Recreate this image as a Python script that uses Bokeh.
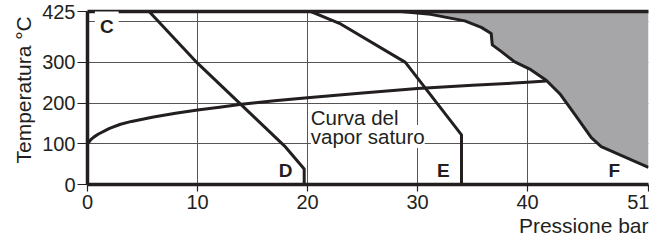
import math
from bokeh.plotting import figure
from bokeh.models import Range1d, FixedTicker, LinearAxis, Label, Title
from bokeh.embed import file_html
from bokeh.resources import INLINE

# ---- data ----
x_ticks = [0, 10, 20, 30, 40, 51]
x_tick_labels = ["0", "10", "20", "30", "40", "51"]
y_ticks = [0, 100, 200, 300, 425]
x_grid = [10, 20, 30, 40]
y_grid = [100, 200, 300, 400]

# saturated vapour curve (Curva del vapor saturo)
sat_p = [0, 0.3, 0.6, 1, 2, 3, 4, 6, 8, 10, 12, 14, 17, 20, 25, 30, 35, 40, 41.7]
sat_t = [100, 110, 117, 124, 138, 148, 155, 166, 175, 183, 190, 197, 206, 213, 225, 236, 244, 251, 254]

# curve D
d_p = [5.6, 10.0, 17.9, 19.7, 19.7]
d_t = [425, 298, 95, 38, 0]

# curve E
e_p = [20.3, 22.9, 28.9, 34.0, 34.0]
e_t = [425, 396, 300, 122, 0]

# curve F (boundary of grey region)
f_p = [28.5, 31.2, 34.3, 35.8, 36.7, 36.8, 37.6, 38.8, 40.3, 41.7, 43.0, 44.3, 45.8, 46.7, 51.0]
f_t = [425, 418, 402, 386, 371, 343, 327, 302, 282, 256, 221, 172, 115, 93, 42]

INK = "#231f20"
GREY = "#a6a6a8"
FONT = "Liberation Sans"

p = figure(width=649, height=245, output_backend="svg", toolbar_location=None,
           x_range=Range1d(0, 51), y_range=Range1d(0, 425),
           min_border_left=87, min_border_right=1, min_border_top=11, min_border_bottom=61)
p.outline_line_color = None
p.background_fill_color = "white"
p.border_fill_color = "white"

# grid
p.xgrid.ticker = FixedTicker(ticks=x_grid)
p.ygrid.ticker = FixedTicker(ticks=y_grid)
for g in (p.xgrid, p.ygrid):
    g.grid_line_color = "#555555"
    g.grid_line_width = 1

# grey region F
p.patch(f_p + [51], f_t + [425], fill_color=GREY, line_color=None)

# curves
lw = 3
p.line(f_p, f_t, line_width=lw, line_color=INK, line_join="round")
p.line(sat_p, sat_t, line_width=lw, line_color=INK, line_join="round")
p.line(d_p, d_t, line_width=lw, line_color=INK, line_join="round")
p.line(e_p, e_t, line_width=lw, line_color=INK, line_join="round")

# axes
for ax in (p.xaxis, p.yaxis):
    ax.axis_line_width = 3.5
    ax.axis_line_color = INK
    ax.major_tick_line_color = INK
    ax.major_tick_line_width = 1.2
    ax.major_tick_in = 0
    ax.minor_tick_line_color = None
    ax.major_label_text_font = FONT
    ax.major_label_text_font_size = "20px"
    ax.major_label_text_color = INK

# x axis: visible tick marks are the minor ticks at the true positions;
# labels sit on (invisible) major ticks, the last one nudged left to stay inside
label_pos = x_ticks[:-1] + [x_ticks[-1] - 0.85]
p.xaxis.ticker = FixedTicker(ticks=label_pos, minor_ticks=x_ticks)
p.xaxis.major_label_overrides = {pos: lab for pos, lab in zip(label_pos, x_tick_labels)}
p.xaxis.major_tick_line_color = None
p.xaxis.major_tick_out = 7
p.xaxis.minor_tick_line_color = INK
p.xaxis.minor_tick_line_width = 1.2
p.xaxis.minor_tick_out = 7
p.xaxis.minor_tick_in = 0
p.xaxis.major_label_standoff = 3

p.yaxis.ticker = FixedTicker(ticks=y_ticks)
p.yaxis.major_tick_out = 10
p.yaxis.major_label_standoff = 2

top = LinearAxis(ticker=FixedTicker(ticks=[]), axis_line_width=3.5, axis_line_color=INK,
                 major_tick_line_color=None, minor_tick_line_color=None,
                 major_label_standoff=0, major_tick_out=0, major_tick_in=0)
p.add_layout(top, "above")

# axis titles
p.add_layout(Title(text="Pressione bar", align="right", text_font=FONT, text_font_size="21px",
                   text_font_style="normal", text_color=INK, standoff=0), "below")
p.add_layout(Title(text="Temperatura °C", align="left", text_font=FONT, text_font_size="21px",
                   text_font_style="normal", text_color=INK, standoff=10, offset=21), "left")

# in-plot texts
txt_kw = dict(text_font=FONT, text_font_size="20.5px", text_color=INK,
              text_align="left", text_baseline="alphabetic")
p.add_layout(Label(x=20.3, y=118, text="vapor saturo", padding=0,
                   background_fill_color="white", **txt_kw))
p.add_layout(Label(x=20.3, y=164, text="Curva del", **txt_kw))

for txt, lx, ly, bg in [("C", 1.75, 388, "white"), ("D", 18.0, 34, None),
                        ("E", 32.35, 34, None), ("F", 47.9, 34, None)]:
    p.add_layout(Label(x=lx, y=ly, text=txt, text_align="center", text_baseline="middle",
                       text_font=FONT, text_font_style="bold", text_font_size="19px",
                       text_color=INK, background_fill_color=bg, padding=5))

open("out.html", "w").write(file_html(p, INLINE))
